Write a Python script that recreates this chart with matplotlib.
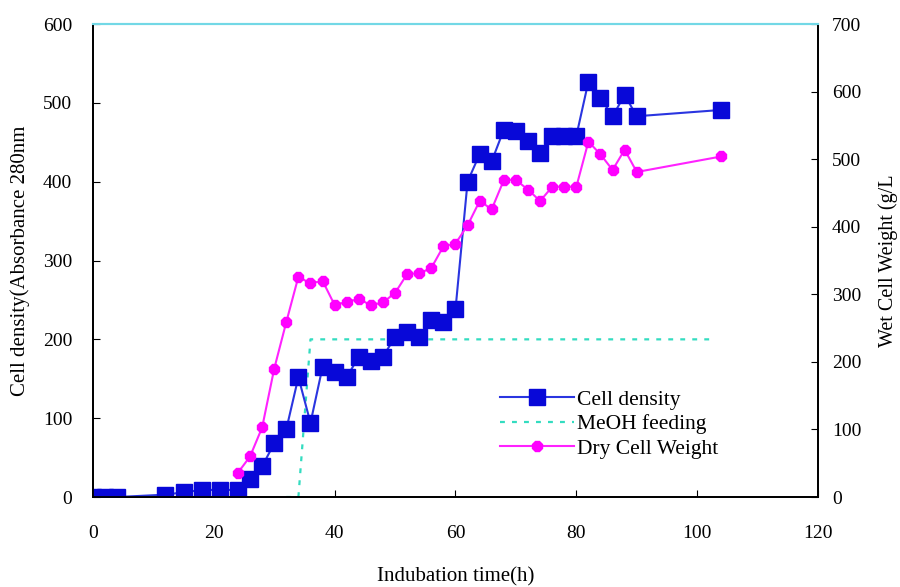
import matplotlib.pyplot as plt

plt.rcParams['font.family'] = ['Liberation Serif', 'DejaVu Serif']

# cell density (left axis)
cd_time = [0, 2, 4, 12, 15, 18, 21, 24, 26, 28, 30, 32, 34, 36, 38, 40, 42, 44,
           46, 48, 50, 52, 54, 56, 58, 60, 62, 64, 66, 68, 70, 72, 74, 76, 78,
           80, 82, 84, 86, 88, 90, 104]
cd_value = [0, 0, 0, 3, 6, 9, 9, 9, 23, 39, 68, 86, 152, 94, 165, 158, 152,
            178, 172, 178, 203, 209, 203, 224, 222, 238, 400, 435, 426, 466,
            464, 452, 436, 458, 458, 458, 527, 506, 483, 510, 483, 491]

# methanol feeding (left axis)
meoh_time = [32, 34, 36, 103]
meoh_value = [0, 0, 200, 200]

# dry cell weight (right axis)
dcw_time = [24, 26, 28, 30, 32, 34, 36, 38, 40, 42, 44, 46, 48, 50, 52, 54, 56,
            58, 60, 62, 64, 66, 68, 70, 72, 74, 76, 78, 80, 82, 84, 86, 88, 90,
            104]
dcw_value = [36, 60, 103, 190, 259, 326, 316, 320, 284, 289, 293, 284, 288,
             302, 330, 331, 339, 371, 375, 402, 438, 426, 469, 469, 455, 438,
             459, 459, 459, 526, 507, 484, 514, 481, 504]

fig, ax = plt.subplots(figsize=(9, 5.87), dpi=100)
fig.subplots_adjust(left=0.1033, right=0.9089, bottom=0.1533, top=0.9591)
ax2 = ax.twinx()

l1, = ax.plot(cd_time, cd_value, color='#2a35e0', lw=1.5, marker='s',
              markersize=11.5, markerfacecolor='#0808d8', markeredgecolor='#0808d8',
              label='Cell density', zorder=3)
l2, = ax.plot(meoh_time, meoh_value, color='#33dcc0', lw=1.6,
              linestyle=(0, (2.2, 3.2)), label='MeOH feeding', zorder=2)
l3, = ax2.plot(dcw_time, dcw_value, color='#ff22ff', lw=1.5, marker='8',
               markersize=8.5, markerfacecolor='#ff00ff', markeredgecolor='#ff00ff',
               label='Dry Cell Weight', zorder=3)

ax.set_xlim(0, 120)
ax.set_ylim(0, 600)
ax2.set_ylim(0, 700)
ax.set_xticks(range(0, 121, 20))
ax.set_yticks(range(0, 601, 100))
ax2.set_yticks(range(0, 701, 100))

ax.tick_params(axis='x', direction='in', length=5, pad=20, labelsize=14)
ax.tick_params(axis='y', direction='in', length=5, pad=15, labelsize=14)
ax2.tick_params(axis='y', direction='in', length=5, pad=10, labelsize=14)

for a in (ax, ax2):
    a.spines['top'].set_color('#72d8e6')
    a.spines['top'].set_linewidth(1.5)
    for s in ('left', 'right', 'bottom'):
        a.spines[s].set_linewidth(1.3)

ax.set_xlabel('Indubation time(h)', fontsize=15, labelpad=18)
ax.set_ylabel('Cell density(Absorbance 280nm', fontsize=15, labelpad=9)
ax2.set_ylabel('Wet Cell Weight (g/L', fontsize=14.5, labelpad=12)

ax.legend(handles=[l1, l2, l3], loc='upper left', bbox_to_anchor=(0.55, 0.245),
          frameon=False, fontsize=15.5, handlelength=3.4, handletextpad=0.15,
          labelspacing=0.2, borderaxespad=0)

fig.savefig('out.png', dpi=100)
